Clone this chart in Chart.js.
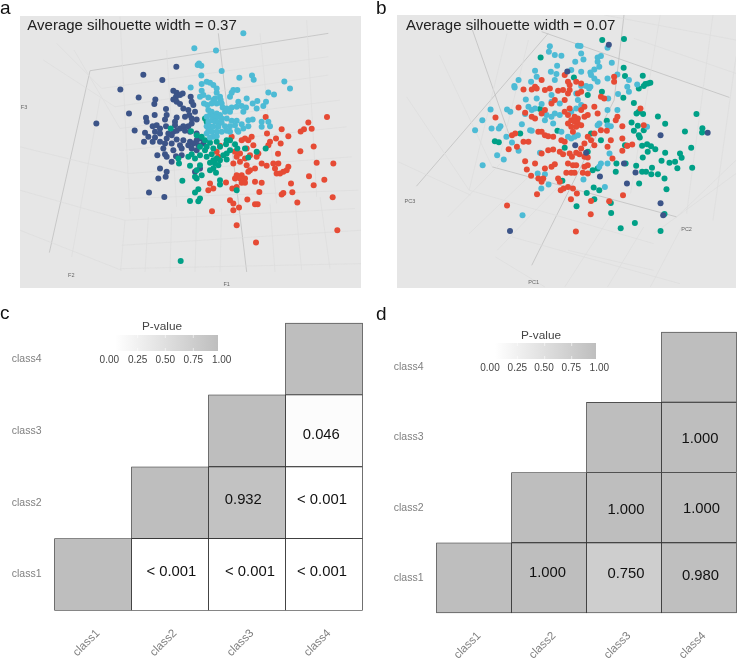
<!DOCTYPE html>
<html><head><meta charset="utf-8">
<script src="https://cdn.jsdelivr.net/npm/chart.js@4"></script>
<style>
html,body{margin:0;padding:0;background:#fff;overflow:hidden}
#wrap{position:relative;width:740px;height:658px}
canvas{position:absolute}
</style></head><body><div id="wrap">
<canvas id="ca" style="left:0;top:0"></canvas>
<canvas id="cb" style="left:370px;top:0"></canvas>
<canvas id="cc" style="left:0;top:295px"></canvas>
<canvas id="cd" style="left:370px;top:295px"></canvas>
</div>
<script>
// Panel a points (picture-read units)
const aLight=[[730,100],[583,145],[648,151],[597,190],[604,197],[593,195],[665,213],[604,226],[718,233],[756,226],[761,239],[853,244],[870,265],[620,245],[630,248],[640,255],[650,265],[605,252],[572,262],[605,272],[650,278],[700,270],[712,270],[695,278],[690,290],[805,277],[822,283],[600,290],[610,285],[625,292],[645,295],[660,290],[640,300],[662,300],[612,310],[622,315],[635,310],[650,310],[665,310],[715,305],[740,295],[772,303],[758,310],[798,305],[790,318],[770,325],[668,322],[680,325],[695,322],[710,320],[725,318],[738,322],[730,335],[690,335],[675,335],[625,330],[635,335],[650,340],[660,345],[620,350],[630,345],[640,350],[650,352],[665,355],[680,355],[695,362],[710,362],[625,365],[635,360],[645,365],[655,368],[665,368],[620,378],[630,378],[640,380],[655,380],[675,378],[690,378],[705,375],[725,372],[745,360],[758,358],[785,365],[805,365],[810,378],[785,380],[745,378],[730,385],[715,395],[690,395],[625,392],[635,395],[650,395],[665,395],[680,392],[640,410],[630,412],[650,408],[620,400],[712,390]];
const aNavy=[[529,200],[430,224],[487,240],[361,268],[416,292],[289,370],[387,340],[404,391],[520,272],[530,278],[540,285],[548,280],[528,290],[520,298],[530,305],[540,312],[572,290],[575,305],[580,315],[466,298],[463,312],[498,327],[550,325],[565,330],[585,335],[500,345],[464,345],[438,353],[495,358],[530,352],[555,350],[568,345],[575,355],[590,358],[440,365],[458,378],[470,375],[480,385],[498,378],[525,365],[525,375],[540,385],[550,378],[565,378],[575,370],[435,398],[465,395],[480,400],[505,400],[520,395],[530,392],[555,392],[570,395],[590,400],[445,410],[432,425],[465,412],[500,415],[515,405],[530,418],[550,420],[570,425],[590,420],[600,415],[458,425],[480,425],[495,430],[515,430],[540,435],[565,435],[580,430],[595,435],[610,430],[490,445],[520,450],[545,445],[575,445],[590,450],[472,465],[495,462],[500,470],[528,468],[545,465],[515,485],[480,505],[500,515],[497,530],[475,535],[447,577],[493,590],[600,505],[585,515]];
const aGreen=[[512,385],[573,393],[590,405],[605,410],[615,420],[630,428],[600,440],[620,440],[640,445],[660,440],[680,420],[690,420],[678,432],[705,432],[712,445],[690,450],[680,460],[670,465],[575,462],[565,470],[585,475],[600,465],[620,470],[635,462],[650,475],[660,480],[535,475],[537,490],[570,497],[600,495],[630,488],[645,490],[680,478],[655,495],[640,505],[590,510],[585,530],[590,535],[605,525],[630,510],[648,518],[547,542],[660,540],[660,553],[595,567],[585,577],[570,602],[600,595],[595,603],[710,570],[745,472],[735,445],[770,455],[797,445],[542,782],[615,355],[620,365],[650,425],[615,450],[640,480]];
const aRed=[[797,351],[981,351],[925,367],[935,386],[912,387],[902,394],[845,387],[801,400],[865,408],[828,415],[810,425],[805,435],[842,430],[941,439],[901,453],[834,461],[950,488],[1000,490],[820,490],[835,490],[865,500],[860,510],[850,515],[840,520],[830,520],[825,505],[800,497],[785,490],[765,505],[745,420],[735,415],[755,410],[725,420],[695,410],[660,437],[705,455],[720,460],[710,470],[735,475],[750,465],[770,470],[775,460],[700,490],[720,485],[740,495],[750,510],[745,515],[725,525],[710,525],[735,535],[720,535],[705,535],[725,548],[735,548],[710,560],[765,545],[785,548],[630,550],[625,570],[640,565],[678,547],[697,565],[927,528],[973,539],[941,555],[873,550],[850,578],[845,583],[877,576],[778,575],[742,598],[690,600],[700,610],[717,622],[700,630],[765,612],[773,612],[892,607],[998,591],[636,633],[710,675],[1012,690],[768,727],[650,455],[655,470],[740,445],[760,435]];
// Panel b points
const bGreen=[[704,120],[770,117],[517,172],[769,203],[618,232],[773,228],[827,227],[850,248],[843,250],[835,252],[830,258],[815,265],[768,293],[703,275],[660,285],[800,309],[815,335],[828,342],[808,340],[873,349],[990,342],[793,367],[812,377],[895,371],[830,390],[800,392],[815,405],[818,412],[955,394],[1008,384],[1007,397],[378,423],[390,426],[455,400],[568,392],[825,437],[840,432],[852,438],[865,447],[842,455],[827,472],[895,458],[974,443],[940,460],[945,473],[925,485],[908,488],[884,482],[932,504],[977,503],[855,503],[807,497],[747,490],[775,490],[745,515],[825,515],[837,515],[853,522],[873,522],[893,535],[816,550],[899,567],[678,562],[695,570],[657,578],[680,597],[626,618],[730,608],[731,638],[803,668],[760,684],[881,692],[893,641],[583,542],[590,443],[670,400],[718,362],[700,420],[773,435],[660,455],[690,505],[675,510],[515,327]];
const bNavy=[[724,134],[598,214],[881,405],[1024,398],[622,435],[655,458],[770,490],[805,517],[697,529],[779,550],[881,609],[889,645],[424,692]];
const bLight=[[545,139],[542,155],[560,165],[580,167],[630,137],[638,138],[640,160],[647,178],[622,185],[700,168],[690,172],[690,185],[720,143],[733,188],[567,197],[565,222],[548,215],[500,212],[488,245],[450,240],[437,258],[438,262],[505,230],[560,240],[610,210],[640,215],[668,217],[680,208],[695,200],[670,225],[640,258],[655,258],[668,260],[680,235],[690,245],[720,235],[750,223],[785,240],[810,253],[780,260],[785,275],[752,282],[722,295],[472,298],[505,295],[550,285],[480,320],[500,325],[490,330],[520,312],[550,305],[575,310],[630,300],[640,315],[610,335],[625,325],[664,265],[365,328],[340,360],[415,328],[425,335],[368,385],[390,385],[395,378],[318,390],[413,410],[430,427],[460,372],[470,342],[530,360],[550,350],[560,340],[575,345],[535,345],[555,370],[485,390],[490,392],[720,375],[730,378],[695,370],[690,375],[840,380],[610,415],[620,410],[630,405],[600,410],[385,465],[405,478],[341,495],[450,452],[515,458],[726,460],[700,490],[720,490],[508,520],[530,522],[541,553],[519,565],[462,645],[647,538],[712,560],[695,500],[750,330],[720,330],[625,280],[580,395]];
const bRed=[[415,616],[624,694],[669,642],[725,603],[767,585],[609,597],[670,602],[627,580],[506,582],[578,570],[587,565],[600,560],[615,565],[570,535],[575,545],[510,535],[520,545],[525,535],[488,527],[475,508],[470,483],[500,490],[530,505],[550,500],[560,492],[595,518],[610,518],[620,518],[645,518],[660,520],[650,500],[660,495],[615,495],[625,495],[600,490],[612,470],[625,458],[635,462],[650,470],[660,472],[735,475],[765,452],[780,437],[795,433],[605,460],[520,460],[540,450],[555,448],[575,455],[585,462],[480,425],[465,425],[445,440],[420,447],[440,400],[430,405],[510,395],[520,395],[530,405],[540,408],[555,410],[580,420],[590,425],[380,352],[450,322],[470,338],[490,350],[500,355],[520,340],[530,330],[550,310],[560,300],[590,300],[600,280],[605,270],[605,255],[600,245],[590,225],[520,240],[500,260],[505,265],[465,268],[490,268],[530,270],[545,265],[570,272],[585,270],[630,280],[640,275],[625,245],[640,250],[740,230],[740,245],[700,290],[710,295],[680,320],[690,340],[660,345],[650,350],[630,355],[620,350],[610,360],[620,365],[630,370],[640,375],[625,380],[610,380],[600,370],[615,395],[605,325],[590,335],[750,350],[745,360],[765,378],[718,392],[700,390],[680,400],[670,420],[680,435],[650,430],[640,445],[730,420],[765,415],[720,440],[830,375],[820,325],[780,437],[660,410],[600,345],[640,330],[650,320]];
// Projected box edges seen behind the points
const aAxes=[[[270,212],[985,100]],[[270,212],[148,757]],[[655,100],[740,815]]];
const aGrid=[[[305,265],[985,170]],[[345,320],[985,225]],[[360,385],[1020,300]],[[375,450],[1040,380]],[[385,520],[1055,470]],[[375,595],[1075,570]],[[375,660],[1065,625]],[[365,735],[1083,690]],[[360,805],[1083,790]],[[60,570],[375,660]],[[60,690],[365,810]],[[60,440],[385,520]],[[130,180],[345,320]],[[170,130],[305,265]],[[222,150],[360,385]],[[215,770],[300,295]],[[375,660],[362,810]],[[445,650],[435,815]],[[515,640],[510,815]],[[590,630],[585,815]],[[665,625],[660,815]],[[810,610],[825,815]],[[885,600],[905,810]],[[960,590],[990,805]],[[500,150],[530,620]],[[780,100],[830,610]],[[920,60],[950,590]],[[360,50],[390,640]]];
const bAxes=[[[770,45],[740,300]],[[740,300],[490,795]],[[520,95],[1090,292]],[[540,100],[140,558]],[[310,90],[420,400]],[[370,500],[930,650]]];
const bGrid=[[[210,165],[370,500]],[[110,290],[300,570]],[[85,485],[305,585]],[[300,570],[860,730]],[[235,650],[395,490]],[[300,700],[480,530]],[[385,750],[570,560]],[[590,860],[740,630]],[[720,860],[830,680]],[[850,860],[945,680]],[[480,120],[390,480]],[[415,100],[300,570]],[[880,45],[790,580]],[[1040,45],[960,640]],[[1110,170],[1040,660]],[[800,115],[1110,220]],[[710,45],[1110,120]],[[600,750],[860,810]],[[430,710],[940,850]],[[380,770],[530,860]],[[860,700],[1110,520]],[[930,650],[1110,480]]];
// Heat-map values
const classes=['class1','class2','class3','class4'];
const pC=[[1,0,0,0],[null,1,0.932,0],[null,null,1,0.046],[null,null,null,1]];
const pD=[[1,1,0.75,0.98],[null,1,1,1],[null,null,1,1],[null,null,null,1]];
const lblC=[['','< 0.001','< 0.001','< 0.001'],['','','0.932','< 0.001'],['','','','0.046'],['','','','']];
const lblD=[['','1.000','0.750','0.980'],['','','1.000','1.000'],['','','','1.000'],['','','','']];
const nudgeC=[[null,[1.3,-2.3],[3,-2.3],[-2,-2.3]],[null,null,[-3.7,-2.3],[-2,-2.3]],[null,null,null,[-2.7,4]],[null,null,null,null]];
const nudgeD=[[null,[-1.5,-4.5],[2,-3.5],[1.5,-2]],[null,null,[2,2.3],[2.5,1.3]],[null,null,null,[1,2]],[null,null,null,null]];
const legendTicks=['0.00','0.25','0.50','0.75','1.00'];
const silhouetteA='Average silhouette width = 0.37', silhouetteB='Average silhouette width = 0.07';

const FONT='"Liberation Sans",Arial,sans-serif';
const NPG={red:'#E64B35',light:'#4DBBD5',green:'#00A087',navy:'#3C5488'};
const toXY=a=>a.map(p=>({x:p[0],y:p[1]}));
Chart.defaults.animation=false;
Chart.defaults.font.family=FONT;

function scatter(id,w,h,pad,xr,yr,axes,grid,series,title,letter,labels){
  const el=document.getElementById(id);el.width=w;el.height=h;el.style.width=w+'px';el.style.height=h+'px';
  const lines=(arr,col,lw)=>arr.map(s=>({type:'line',data:toXY(s),borderColor:col,borderWidth:lw,pointRadius:0,showLine:true,parsing:false,order:10,tension:0}));
  const pts=series.map((s,i)=>({type:'scatter',data:toXY(s.d),backgroundColor:s.c,borderWidth:0,pointRadius:3,order:i}));
  new Chart(el,{type:'scatter',data:{datasets:[...pts,...lines(grid,'#dcdcdc',0.7),...lines(axes,'#c0c0c0',0.8)]},
   options:{responsive:false,layout:{padding:pad},
    plugins:{legend:{display:false},tooltip:{enabled:false}},
    scales:{x:{type:'linear',display:false,min:xr[0],max:xr[1]},y:{type:'linear',display:false,reverse:true,min:yr[0],max:yr[1]}}},
   plugins:[{id:'bgTxt',
     beforeDraw(c){const a=c.chartArea,g=c.ctx;g.save();g.fillStyle='#e6e6e6';g.fillRect(a.left,a.top,a.width,a.height);g.restore();},
     afterDraw(c){const g=c.ctx,sx=c.scales.x,sy=c.scales.y;g.save();
       g.fillStyle='#222';g.font='15px '+FONT;g.textBaseline='middle';g.textAlign='left';
       g.fillText(title.t,sx.getPixelForValue(title.x),sy.getPixelForValue(title.y));
       g.fillStyle='#666';g.font='5.5px '+FONT;g.textAlign='center';
       labels.forEach(l=>g.fillText(l.t,sx.getPixelForValue(l.x),sy.getPixelForValue(l.y)));
       g.fillStyle='#111';g.font='19px '+FONT;g.textAlign='left';g.fillText(letter.t,letter.x,letter.y);
       g.restore();}}]});
}
scatter('ca',370,295,{left:20,top:16,right:9,bottom:7},[60,1083],[48,863],aAxes,aGrid,
 [{d:aLight,c:NPG.light},{d:aGreen,c:NPG.green},{d:aRed,c:NPG.red},{d:aNavy,c:NPG.navy}],
 {t:silhouetteA,x:82,y:78},{t:'a',x:0,y:9},[{t:'F3',x:72,y:322},{t:'F2',x:214,y:825},{t:'F1',x:680,y:853}]);
scatter('cb',370,295,{left:27,top:15,right:0,bottom:7},[81,1110],[45,863],bAxes,bGrid,
 [{d:bNavy,c:NPG.navy},{d:bRed,c:NPG.red},{d:bLight,c:NPG.light},{d:bGreen,c:NPG.green}],
 {t:silhouetteB,x:108,y:78},{t:'b',x:6,y:9},[{t:'PC3',x:120,y:605},{t:'PC2',x:960,y:688},{t:'PC1',x:496,y:846}]);

function heat(id,pad,yW,xH,vals,lbls,nudge,lg,letter){
  const el=document.getElementById(id);el.width=370;el.height=363;el.style.width='370px';el.style.height='363px';
  const shade=p=>{const v=Math.round(255-65*p);return `rgb(${v},${v},${v})`;};
  const ds=vals.map((row,r)=>({data:row.map(p=>p==null?null:[r,r+1]),backgroundColor:row.map(p=>p==null?'transparent':shade(p)),
     borderColor:'#2a2a2a',borderWidth:0.8,borderSkipped:false,barPercentage:1,categoryPercentage:1,grouped:false,clip:false}));
  new Chart(el,{type:'bar',data:{labels:classes,datasets:ds},
   options:{responsive:false,layout:{padding:pad},
    plugins:{legend:{display:false},tooltip:{enabled:false}},
    scales:{
     x:{grid:{display:false},border:{display:false},
        afterFit(s){s.height=xH;},
        ticks:{minRotation:45,maxRotation:45,color:'#7f7f7f',font:{size:11.5},padding:8,labelOffset:5,autoSkip:false}},
     y:{type:'linear',min:0,max:4,grid:{display:false},border:{display:false},
        afterFit(s){s.width=yW;},
        afterBuildTicks(s){s.ticks=classes.map((_,i)=>({value:i+0.5}));},
        ticks:{color:'#7f7f7f',font:{size:10.5},padding:5,callback:v=>classes[Math.floor(v)]}}}},
   plugins:[{id:'cells',afterDraw(c){const g=c.ctx,sx=c.scales.x,sy=c.scales.y;g.save();
      g.fillStyle='#111';g.font='14.8px '+FONT;g.textAlign='center';g.textBaseline='middle';
      lbls.forEach((row,r)=>row.forEach((t,i)=>{if(t){const n=nudge[r][i]||[0,0];g.fillText(t,sx.getPixelForValue(i)+n[0],sy.getPixelForValue(r+0.5)+n[1]);}}));
      const gr=g.createLinearGradient(lg.x0,0,lg.x1,0);gr.addColorStop(0,'#ffffff');gr.addColorStop(1,'#bebebe');
      g.fillStyle=gr;g.fillRect(lg.x0,lg.y0,lg.x1-lg.x0,lg.y1-lg.y0);
      g.strokeStyle='#fff';g.lineWidth=0.6;lg.marks.forEach(m=>{g.beginPath();g.moveTo(m,lg.y0);g.lineTo(m,lg.y0+3);g.moveTo(m,lg.y1-3);g.lineTo(m,lg.y1);g.stroke();});
      g.fillStyle='#444';g.font='10px '+FONT;legendTicks.forEach((t,i)=>g.fillText(t,lg.lab[i],lg.ly));
      g.font='11.8px '+FONT;g.fillText('P-value',lg.tx,lg.ty);
      g.fillStyle='#111';g.font=letter.f+' '+FONT;g.textAlign='left';g.fillText(letter.t,letter.x,letter.y);
      g.restore();}}]});
}
heat('cc',{left:0,top:28,right:7.5,bottom:0},54.5,47.5,pC,lblC,nudgeC,
 {x0:115,x1:218,y0:40,y1:56,marks:[137.7,165.3,193.3],lab:[109.3,137.7,165.3,193.3,221.7],ly:65,tx:162,ty:32},{t:'c',x:0,y:19,f:'19px'});
heat('cd',{left:0,top:37,right:3.5,bottom:0},66.5,45,pD,lblD,nudgeD,
 {x0:125,x1:226,y0:48,y1:64,marks:[147.3,174.7,201.7],lab:[120,147.3,174,201.3,229.3],ly:73.5,tx:171,ty:40.5},{t:'d',x:6,y:20,f:'19px'});
</script></body></html>
